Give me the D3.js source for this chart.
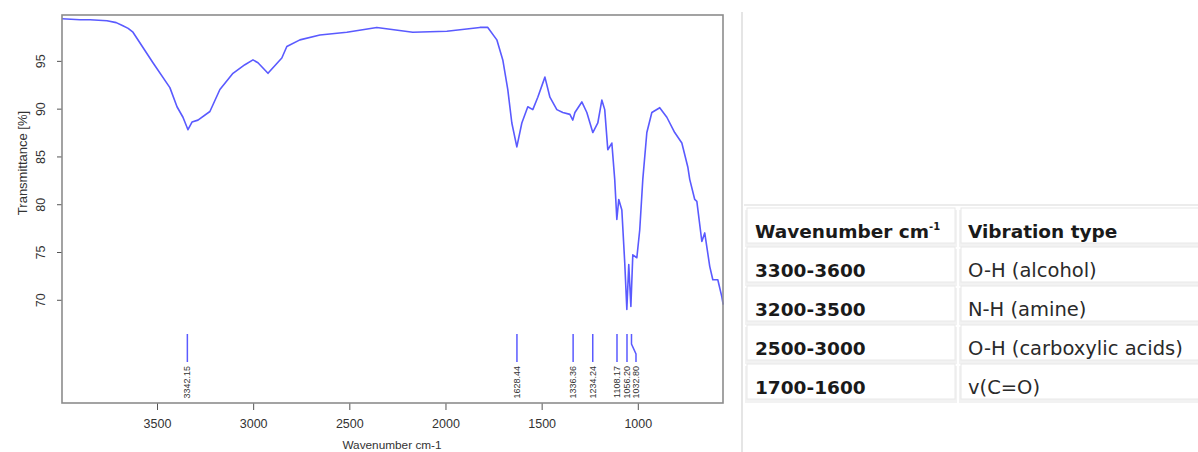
<!DOCTYPE html>
<html>
<head>
<meta charset="utf-8">
<script src="https://cdn.jsdelivr.net/npm/d3@7"></script>
<style>
  body { margin: 0; background: #fff; }
  svg { display: block; }
</style>
</head>
<body>
<div id="canvas"></div>
<script>
// spectrum: wavenumber (cm-1) and transmittance (%)
var wavenumbers = [3994, 3900, 3848, 3760, 3712, 3680, 3650, 3625, 3521, 3433, 3396, 3365, 3339, 3318, 3287, 3225, 3173, 3105, 3043, 3001,
    2975, 2923, 2851, 2825, 2757, 2653, 2513, 2357, 2170, 1993, 1821, 1780, 1733, 1702, 1676, 1655, 1629, 1603,
    1572, 1546, 1520, 1483, 1457, 1421, 1390, 1353, 1338, 1327, 1291, 1265, 1234, 1208, 1187, 1172, 1156, 1135,
    1120, 1109, 1099, 1083, 1068, 1057, 1047, 1036, 1026, 1005, 990, 974, 953, 927, 886, 849, 808, 771, 740,
    730, 704, 693, 667, 652, 626, 610, 584, 563, 556]
var transmittance = [99.4, 99.3, 99.3, 99.2, 99.0, 98.7, 98.4, 98.0, 94.8, 92.2, 90.2, 89.1, 87.8, 88.6, 88.8, 89.7, 92.0, 93.7, 94.6, 95.1,
    94.8, 93.7, 95.3, 96.5, 97.2, 97.7, 98.0, 98.5, 98.0, 98.1, 98.5, 98.5, 97.2, 95.1, 92.0, 88.5, 86.0, 88.5,
    90.2, 89.9, 91.2, 93.3, 91.2, 89.9, 89.6, 89.4, 88.8, 89.6, 90.7, 89.6, 87.5, 88.5, 90.9, 89.9, 85.7, 86.4,
    82.6, 78.4, 80.5, 79.4, 73.9, 69.0, 73.7, 69.3, 74.7, 74.4, 77.3, 82.6, 87.5, 89.6, 90.1, 89.1, 87.5, 86.4, 83.9,
    82.6, 80.5, 80.3, 76.1, 77.0, 73.5, 72.1, 72.1, 70.3, 69.5]

// picked peaks
var peakPositions = [3342.15, 1628.44, 1336.36, 1234.24, 1108.17, 1056.20, 1032.80]
var peakLabels = ['3342.15', '1628.44', '1336.36', '1234.24', '1108.17', '1056.20', '1032.80']

var xTicks = [3500, 3000, 2500, 2000, 1500, 1000]
var yTicks = [70, 75, 80, 85, 90, 95]

// table next to the spectrum
var tableHeader = ['Wavenumber cm', 'Vibration type']
var tableRanges = ['3300-3600', '3200-3500', '2500-3000', '1700-1600']
var tableVibrations = ['O-H (alcohol)', 'N-H (amine)', 'O-H (carboxylic acids)', 'v(C=O)']

var width = 1198, height = 452
var plot = { left: 62, top: 15, right: 723, bottom: 403 }
var lineColor = '#5a5aff'
var axisFont = 'Liberation Sans, Arial, sans-serif'
var tableFont = 'DejaVu Sans, Verdana, sans-serif'

var svg = d3.select('#canvas')
    .append('svg')
    .attr('width', width)
    .attr('height', height)

var x = d3.scaleLinear()
    .domain([3994, 557])
    .range([plot.left, plot.right])

var y = d3.scaleLinear()
    .domain([59.2, 99.8])
    .range([plot.bottom, plot.top])

//x axis
var xAxis = svg.append('g')
    .attr('transform', 'translate(0,' + plot.bottom + ')')
    .call(d3.axisBottom(x).tickValues(xTicks).tickFormat(d3.format('d'))
        .tickSizeOuter(0).tickSize(7).tickPadding(9))
xAxis.select('.domain').remove()
xAxis.selectAll('line').attr('stroke', '#555')
xAxis.selectAll('text')
    .attr('fill', '#333')
    .style('font-family', axisFont)
    .style('font-size', '12.5px')

//y axis, labels turned like R does
var yAxis = svg.append('g')
    .attr('transform', 'translate(' + plot.left + ',0)')
    .call(d3.axisLeft(y).tickValues(yTicks).tickSizeOuter(0).tickSize(5))
yAxis.select('.domain').remove()
yAxis.selectAll('line').attr('stroke', '#555')
yAxis.selectAll('text')
    .attr('fill', '#333')
    .attr('x', null)
    .attr('dy', null)
    .attr('transform', 'translate(-17,0) rotate(-90)')
    .attr('text-anchor', 'middle')
    .style('font-family', axisFont)
    .style('font-size', '12.5px')

svg.append('text')
    .attr('x', 392)
    .attr('y', 449)
    .attr('text-anchor', 'middle')
    .attr('fill', '#333')
    .style('font-family', axisFont)
    .style('font-size', '11.8px')
    .text('Wavenumber cm-1')

svg.append('text')
    .attr('transform', 'translate(27,163) rotate(-90)')
    .attr('text-anchor', 'middle')
    .attr('fill', '#333')
    .style('font-family', axisFont)
    .style('font-size', '13px')
    .text('Transmittance [%]')

//spectrum
var points = wavenumbers.map(function (w, i) { return [w, transmittance[i]] })
var line = d3.line()
    .x(function (d) { return x(d[0]) })
    .y(function (d) { return y(d[1]) })

svg.append('path')
    .datum(points)
    .attr('fill', 'none')
    .attr('stroke', lineColor)
    .attr('stroke-width', 1.6)
    .attr('stroke-linejoin', 'round')
    .attr('d', line)

//peak markers, labels pushed apart when they would overlap
var peaks = peakPositions.map(function (p, i) {
    return { x: x(p), label: peakLabels[i] }
}).sort(function (a, b) { return a.x - b.x })
var prev = -Infinity
peaks.forEach(function (p) {
    p.lx = p.x - prev < 9 ? prev + 9 : p.x
    prev = p.lx
})

var markers = svg.append('g')
markers.selectAll('path')
    .data(peaks)
    .enter().append('path')
    .attr('fill', 'none')
    .attr('stroke', lineColor)
    .attr('stroke-width', 1.5)
    .attr('d', function (d) {
        return 'M' + d.x + ',334V344L' + d.lx + ',354V362'
    })

markers.selectAll('text')
    .data(peaks)
    .enter().append('text')
    .attr('transform', function (d) { return 'translate(' + (d.lx + 3) + ',366) rotate(-90)' })
    .attr('text-anchor', 'end')
    .attr('fill', '#333')
    .style('font-family', axisFont)
    .style('font-size', '9px')
    .text(function (d) { return d.label })

//frame
svg.append('rect')
    .attr('x', plot.left)
    .attr('y', plot.top)
    .attr('width', plot.right - plot.left)
    .attr('height', plot.bottom - plot.top)
    .attr('fill', 'none')
    .attr('stroke', '#8c8c8c')
    .attr('stroke-width', 1.6)

//table part
svg.append('line')
    .attr('x1', 742).attr('x2', 742)
    .attr('y1', 12).attr('y2', height)
    .attr('stroke', '#dcdcdc')
    .attr('stroke-width', 1.5)
svg.append('line')
    .attr('x1', 744).attr('x2', width)
    .attr('y1', 205).attr('y2', 205)
    .attr('stroke', '#e6e6e6')
    .attr('stroke-width', 1.5)

var rows = [tableHeader].concat(tableRanges.map(function (r, i) { return [r, tableVibrations[i]] }))
var colX = [745, 959], colW = [212, 245]
var rowTop = 208, rowH = 39

var table = svg.append('g')
rows.forEach(function (row, r) {
    row.forEach(function (cell, c) {
        var top = rowTop + r * rowH
        table.append('rect')
            .attr('x', colX[c])
            .attr('y', top + 2)
            .attr('width', colW[c])
            .attr('height', rowH - 2)
            .attr('fill', '#f2f2f2')
        table.append('rect')
            .attr('x', colX[c] + 2)
            .attr('y', top)
            .attr('width', colW[c] - 4)
            .attr('height', rowH - 4)
            .attr('fill', '#fff')
            .attr('stroke', '#e8e8e8')
        var t = table.append('text')
            .attr('x', colX[c] + (c === 0 ? 10 : 9))
            .attr('y', top + 30)
            .attr('fill', c === 0 || r === 0 ? '#1a1a1a' : '#2a2a2a')
            .style('font-family', tableFont)
            .style('font-weight', c === 0 || r === 0 ? 'bold' : 'normal')
            .style('font-size', c === 0 || r === 0 ? '18.5px' : '19.5px')
            .text(cell)
        if (r === 0 && c === 0) {
            t.append('tspan')
                .attr('dy', -8)
                .style('font-size', '10px')
                .text('-1')
        }
    })
})
</script>
</body>
</html>
